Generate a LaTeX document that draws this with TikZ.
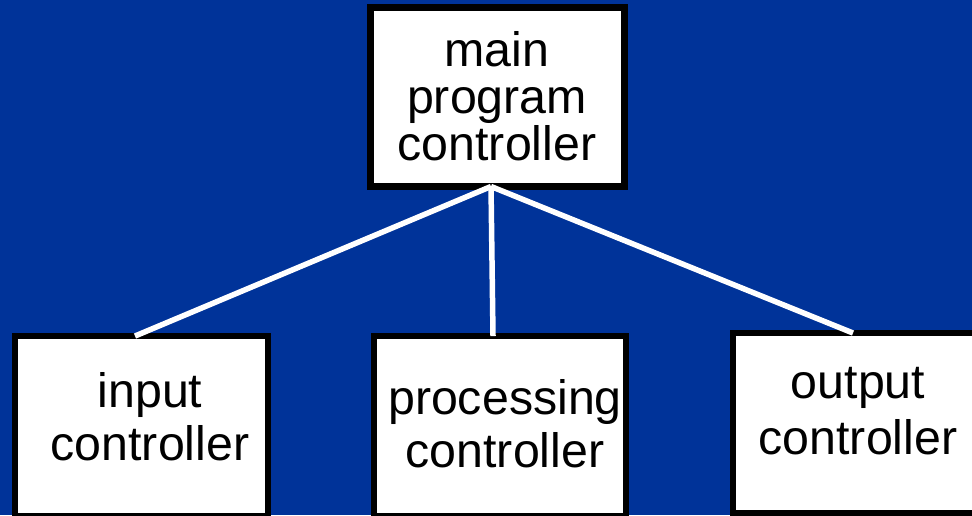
\documentclass[tikz,border=0pt]{standalone}
\usepackage{fontspec}
\setmainfont{Liberation Sans}
\usetikzlibrary{positioning}
\definecolor{slideblue}{RGB}{0,51,153}

\begin{document}
\begin{tikzpicture}[x=0.02cm,y=-0.02cm]
 \tikzset{main node/.style={rectangle, draw, line width=0.14cm,
 		fill=white, inner sep=0pt, outer sep=0pt,
 		minimum width=5.08cm, minimum height=3.59cm}, }
 \tikzset{ctrl node/.style={rectangle, draw, line width=0.12cm,
 		fill=white, inner sep=0pt, outer sep=0pt,
 		minimum width=5.05cm, minimum height=3.6cm}, }
 \tikzset{txt node/.style={align=center, inner sep=0pt,
 		font=\fontsize{27.5}{30}\selectfont}, }
 \tikzset{linea/.style={draw=white, line width=0.11cm},}
 \fill[slideblue] (0,0) rectangle (972,515);
 \useasboundingbox (0,0) rectangle (972,515);
 \node[main node] (main) at (497.5,96.75) {};
 \node[ctrl node] (input) at (141.5,426) {};
 \node[ctrl node] (proc) at (500,426) {};
 \node[ctrl node] (output) at (859,423) {};
 \node[txt node, font=\fontsize{27.5}{26.7}\selectfont] (t1) at (497,96) {main\\program\\controller};
 \node[txt node] (t2) at (150,417) {input\\controller};
 \node[txt node] (t3) at (505,424) {processing\\controller};
 \node[txt node, font=\fontsize{27.5}{31.5}\selectfont] (t4) at (858,411) {output\\controller};
 \foreach \y /\s in{input/-0.13,proc/-0.14,output/-0.12}
 \draw[linea] ([xshift=-0.13cm]main.south) -- ([xshift=\s cm]\y.north);
 %%
\end{tikzpicture}
\end{document}
